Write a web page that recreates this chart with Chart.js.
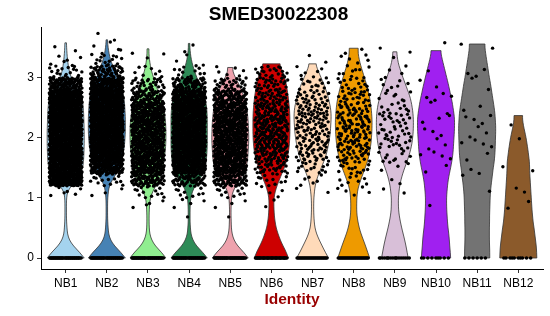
<!DOCTYPE html>
<html><head><meta charset="utf-8">
<script src="https://cdn.jsdelivr.net/npm/chart.js@4.4.1/dist/chart.umd.min.js"></script>
<style>html,body{margin:0;padding:0;background:#fff}#c{display:block}</style>
</head><body>
<canvas id="c" width="550" height="316"></canvas>
<script>
// ---------- data ----------
const chartTitle = 'SMED30022308';
const xTitle = 'Identity';
const categories = ['NB1','NB2','NB3','NB4','NB5','NB6','NB7','NB8','NB9','NB10','NB11','NB12'];
const fillColors = ['#A4D3EE','#4682B4','#90EE90','#2E8B57','#EEA2AD','#CD0000','#FFDAB9','#EE9A00','#D8BFD8','#A020F0','#737373','#8B5A2B'];
const yTicks = [0, 1, 2, 3];

// violin: maximum expression (trimmed top) per identity
const violinTops = [3.58, 3.63, 3.48, 3.57, 3.17, 3.23, 3.23, 3.49, 3.43, 3.45, 3.56, 2.37];
// violin relative width at expression levels 0, 0.1, 0.2, ...
const violinNB1 = [1.0,0.74,0.42,0.2,0.1,0.07,0.05,0.04,0.04,0.04,0.05,0.1,0.3,0.62,0.82,0.92,0.96,0.98,0.99,1.0,1.0,1.0,0.99,0.98,0.97,0.95,0.92,0.85,0.7,0.48,0.3,0.2,0.14,0.1,0.07,0.05,0.04];
const violinNB2 = [1.0,0.74,0.42,0.2,0.1,0.07,0.05,0.04,0.04,0.04,0.05,0.08,0.14,0.3,0.5,0.65,0.78,0.86,0.92,0.96,0.98,1.0,1.0,1.0,0.99,0.97,0.95,0.9,0.82,0.7,0.55,0.42,0.32,0.2,0.12,0.07,0.04];
const violinNB3 = [0.97,0.72,0.4,0.2,0.1,0.07,0.06,0.06,0.07,0.09,0.13,0.25,0.42,0.6,0.72,0.8,0.86,0.9,0.94,0.96,0.97,0.97,0.96,0.94,0.9,0.85,0.78,0.65,0.52,0.4,0.3,0.2,0.13,0.08,0.05];
const violinNB4 = [0.98,0.72,0.4,0.2,0.1,0.07,0.05,0.05,0.05,0.06,0.09,0.17,0.32,0.55,0.74,0.86,0.92,0.95,0.97,0.98,0.98,0.98,0.98,0.98,0.97,0.95,0.9,0.8,0.68,0.55,0.42,0.3,0.2,0.12,0.07,0.04];
const violinNB5 = [0.97,0.72,0.4,0.2,0.1,0.06,0.05,0.04,0.04,0.05,0.07,0.14,0.3,0.52,0.72,0.85,0.92,0.95,0.97,0.99,1.0,0.99,0.98,0.96,0.93,0.88,0.82,0.72,0.6,0.45,0.28,0.14];
const violinNB6 = [0.92,0.8,0.63,0.48,0.36,0.26,0.2,0.16,0.14,0.13,0.14,0.2,0.3,0.43,0.56,0.7,0.8,0.88,0.94,0.97,0.99,1.0,1.0,1.0,0.99,0.97,0.94,0.9,0.85,0.8,0.72,0.6,0.47];
const violinNB7 = [0.86,0.68,0.52,0.36,0.22,0.13,0.09,0.07,0.06,0.06,0.07,0.1,0.14,0.22,0.33,0.47,0.6,0.72,0.8,0.87,0.92,0.96,0.98,1.0,1.0,0.97,0.9,0.82,0.72,0.6,0.46,0.32,0.2];
const violinNB8 = [0.86,0.75,0.64,0.52,0.4,0.3,0.23,0.18,0.16,0.16,0.17,0.2,0.27,0.38,0.5,0.62,0.74,0.82,0.88,0.93,0.96,0.98,0.99,0.99,0.97,0.94,0.9,0.84,0.76,0.68,0.58,0.48,0.38,0.3,0.24];
const violinNB9 = [0.72,0.66,0.6,0.53,0.45,0.37,0.3,0.24,0.2,0.19,0.19,0.22,0.26,0.33,0.42,0.53,0.65,0.76,0.85,0.92,0.96,0.99,1.0,1.0,0.98,0.94,0.88,0.8,0.68,0.56,0.44,0.33,0.22,0.15,0.11];
const violinNB10 = [0.79,0.77,0.74,0.72,0.69,0.65,0.62,0.6,0.58,0.57,0.57,0.59,0.62,0.66,0.72,0.79,0.85,0.9,0.93,0.95,0.97,0.99,1.0,1.0,0.97,0.92,0.87,0.8,0.73,0.66,0.58,0.5,0.42,0.34,0.27];
const violinNB11 = [0.68,0.68,0.67,0.66,0.66,0.66,0.67,0.67,0.68,0.69,0.7,0.72,0.75,0.79,0.83,0.87,0.92,0.95,0.97,0.98,0.99,1.0,1.0,0.98,0.96,0.92,0.87,0.82,0.77,0.72,0.66,0.61,0.56,0.51,0.46,0.42];
const violinNB12 = [1.0,0.99,0.97,0.93,0.89,0.85,0.8,0.77,0.74,0.72,0.7,0.68,0.66,0.64,0.62,0.61,0.6,0.56,0.52,0.47,0.42,0.35,0.28,0.23];
const violinWidths = [violinNB1,violinNB2,violinNB3,violinNB4,violinNB5,violinNB6,violinNB7,violinNB8,violinNB9,violinNB10,violinNB11,violinNB12];

// cells: count with zero expression, and estimated counts per 0.2-wide bin starting at these edges
const zeroCounts = [45, 45, 45, 45, 45, 40, 30, 30, 18, 9, 6, 10];
const binEdges = [0.6,0.8,1.0,1.2,1.4,1.6,1.8,2.0,2.2,2.4,2.6,2.8,3.0,3.2,3.4,3.6];
const cellsNB1  = [0,0,6,140,170,170,170,170,170,170,160,95,18,6,2,0];
const cellsNB2  = [0,0,3,16,100,145,150,150,150,150,145,115,55,14,5,2];
const cellsNB3  = [0,4,14,70,100,105,108,108,105,100,64,30,8,2,1,0];
const cellsNB4  = [1,4,10,55,125,138,142,142,142,138,125,62,12,3,2,0];
const cellsNB5  = [1,3,12,70,100,105,110,110,108,100,72,30,6,0,0,0];
const cellsNB6  = [0,2,4,12,30,45,55,58,55,45,36,28,20,0,0,0];
const cellsNB7  = [0,0,2,6,14,24,27,28,30,28,21,13,6,2,0,0];
const cellsNB8  = [0,0,5,8,15,26,30,32,30,26,21,14,9,5,2,0];
const cellsNB9  = [0,0,2,2,4,10,14,16,14,11,8,6,4,1,2,0];
const cellsNB10 = [0,1,0,0,2,4,3,3,3,2,4,2,1,0,1,0];
const cellsNB11 = [0,0,1,1,2,2,4,3,4,2,0,2,3,0,2,0];
const cellsNB12 = [0,2,2,0,2,0,1,0,1,0,0,0,0,0,0,0];
const cellCounts = [cellsNB1,cellsNB2,cellsNB3,cellsNB4,cellsNB5,cellsNB6,cellsNB7,cellsNB8,cellsNB9,cellsNB10,cellsNB11,cellsNB12];

// ---------- jittered placement (deterministic Halton sequence, jitter width 0.4) ----------
function radInv(n, base) { let f = 1, r = 0; while (n > 0) { f /= base; r += f * (n % base); n = Math.floor(n / base); } return r; }
const zeroPoints = [];
const cellPoints = [];
categories.forEach((c, i) => {
  let n = 1;
  for (let k = 0; k < zeroCounts[i]; k++, n++) zeroPoints.push({x: i + 1 + (radInv(n, 2) - 0.5) * 0.8, y: 0});
  cellCounts[i].forEach((cnt, b) => {
    for (let k = 0; k < cnt; k++, n++) cellPoints.push({x: i + 1 + (radInv(n, 2) - 0.5) * 0.8, y: binEdges[b] + radInv(n, 3) * 0.2});
  });
});

const FONT = '"Liberation Sans", Arial, Helvetica, sans-serif';

function smoothPath(ctx, pts, first) {
  if (first) ctx.moveTo(pts[0][0], pts[0][1]); else ctx.lineTo(pts[0][0], pts[0][1]);
  for (let i = 1; i < pts.length - 1; i++) {
    const mx = (pts[i][0] + pts[i + 1][0]) / 2, my = (pts[i][1] + pts[i + 1][1]) / 2;
    ctx.quadraticCurveTo(pts[i][0], pts[i][1], mx, my);
  }
  const last = pts[pts.length - 1];
  ctx.lineTo(last[0], last[1]);
}

const violinPlugin = {
  id: 'violins',
  beforeDatasetsDraw(chart) {
    const {ctx, scales: {x, y}} = chart;
    ctx.save();
    categories.forEach((c, i) => {
      const prof = violinWidths[i], top = violinTops[i];
      const cx = x.getPixelForValue(i + 1);
      const hw = x.getPixelForValue(i + 1.45) - cx;
      const lv = [];
      for (let k = 0; k < prof.length; k++) { const v = k / 10; if (v >= top) break; lv.push([v, prof[k]]); }
      const kt = Math.floor(top * 10), f = top * 10 - kt;
      const a = prof[Math.min(kt, prof.length - 1)], b = prof[Math.min(kt + 1, prof.length - 1)];
      lv.push([top, a * (1 - f) + b * f]);
      const right = lv.map(([v, w]) => [cx + w * hw, y.getPixelForValue(v)]);
      const left = lv.map(([v, w]) => [cx - w * hw, y.getPixelForValue(v)]).reverse();
      ctx.beginPath();
      smoothPath(ctx, right, true);
      smoothPath(ctx, left, false);
      ctx.closePath();
      ctx.fillStyle = fillColors[i];
      ctx.fill();
      ctx.lineWidth = 0.8;
      ctx.strokeStyle = '#333333';
      ctx.stroke();
    });
    ctx.restore();
  }
};

new Chart(document.getElementById('c'), {
  type: 'scatter',
  data: {
    datasets: [
      {data: cellPoints, pointRadius: 1.7, pointBorderWidth: 0, pointBackgroundColor: '#000', pointHoverRadius: 1.7},
      {data: zeroPoints, pointRadius: 1.8, pointBorderWidth: 0, pointBackgroundColor: '#000', pointHoverRadius: 1.8}
    ]
  },
  plugins: [violinPlugin],
  options: {
    responsive: false,
    animation: false,
    devicePixelRatio: 1,
    layout: {padding: {left: 14, right: 7, top: 0, bottom: 0}},
    plugins: {
      legend: {display: false},
      tooltip: {enabled: false},
      title: {
        display: true, text: chartTitle, color: '#000',
        font: {family: FONT, size: 19, weight: 'bold'},
        padding: {top: 3, bottom: 2}
      }
    },
    scales: {
      x: {
        type: 'linear', min: 0.4, max: 12.6,
        afterBuildTicks: (s) => { s.ticks = categories.map((c, i) => ({value: i + 1})); },
        afterFit: (s) => { s.height = 47; },
        grid: {display: true, drawOnChartArea: false, drawTicks: true, tickLength: 4, color: '#333'},
        border: {display: true, color: '#000', width: 1},
        ticks: {
          autoSkip: false, maxRotation: 0, padding: 3, color: '#000',
          font: {family: FONT, size: 12},
          callback: (v) => categories[Math.round(v) - 1]
        },
        title: {
          display: true, text: xTitle, color: '#990000',
          font: {family: FONT, size: 15.5, weight: 'bold'},
          padding: {top: 0, bottom: 7}
        }
      },
      y: {
        type: 'linear', min: -0.183, max: 3.83,
        afterBuildTicks: (s) => { s.ticks = yTicks.map(v => ({value: v})); },
        afterFit: (s) => { s.width = 27; },
        grid: {display: true, drawOnChartArea: false, drawTicks: true, tickLength: 4, color: '#333'},
        border: {display: true, color: '#000', width: 1},
        ticks: {padding: 3, color: '#000', font: {family: FONT, size: 12}}
      }
    }
  }
});
</script>
</body></html>
